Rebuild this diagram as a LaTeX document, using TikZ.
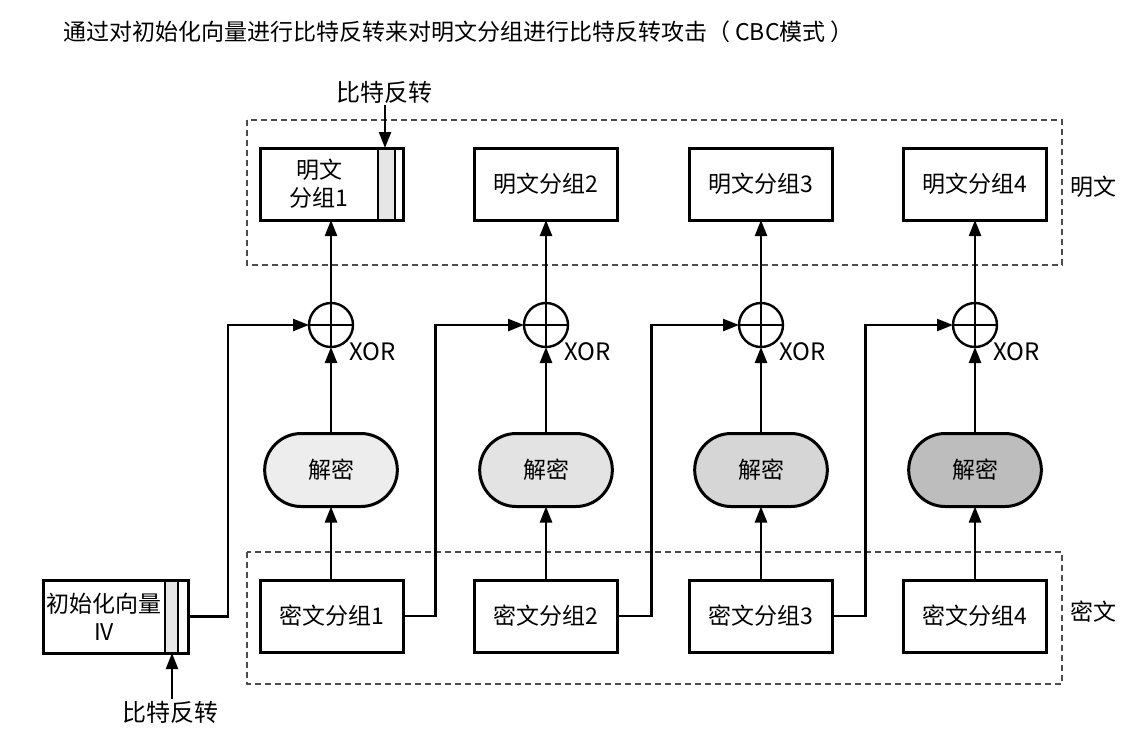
\documentclass[tikz,border=0pt]{standalone}
\usepackage{fontspec}
\setmainfont{Noto Sans CJK SC}
\usepackage{tikz}
\usetikzlibrary{arrows.meta, positioning, shapes.misc}
\definecolor{dshadeA}{HTML}{EDEDED}
\definecolor{dshadeB}{HTML}{E3E3E3}
\definecolor{dshadeC}{HTML}{D6D6D6}
\definecolor{dshadeD}{HTML}{BDBDBD}
\definecolor{flipgray}{HTML}{E6E6E6}

\begin{document}
\begin{tikzpicture}[x=0.5pt, y=-0.5pt,
  blockbox/.style={draw, line width=1.5pt, minimum width=71.5pt, minimum height=36pt,
    inner sep=0pt, outer sep=0pt, align=center, font=\fontsize{11.5}{14}\selectfont},
  decbox/.style={draw, rounded rectangle, line width=1.5pt, minimum width=73pt,
    minimum height=36.5pt, outer sep=0pt, font=\fontsize{11.5}{14}\selectfont},
  xorgate/.style={draw, circle, line width=1.2pt, minimum size=22pt, inner sep=0pt, outer sep=0pt},
  lbl/.style={font=\fontsize{11.5}{14}\selectfont, inner sep=1pt},
  arr/.style={line width=1.2pt, -{Triangle[length=8pt, width=6pt]}},
  wire/.style={line width=1.2pt},
  region/.style={draw=black!70, line width=0.6pt, dash pattern=on 3pt off 2pt}]
\useasboundingbox (0,0) rectangle (1138,745);
\node[font=\fontsize{11.5}{13}\selectfont, anchor=west] (title) at (56,32)
  {通过对初始化向量进行比特反转来对明文分组进行比特反转攻击（ CBC模式 ）};
% plaintext and ciphertext regions
\draw[region] (247,120) rectangle (1062,265);
\draw[region] (247,552) rectangle (1062,684);
\node[lbl] (ptlbl) at (1093,187) {明文};
\node[lbl] (ctlbl) at (1093,612) {密文};
% plaintext blocks
\node[blockbox] (p1) at (331.5,184) {};
\fill[flipgray] ([xshift=-12.5pt]p1.south east) rectangle ([xshift=-4pt]p1.north east);
\draw[line width=1.2pt] ([xshift=-12.5pt]p1.south east) -- ([xshift=-12.5pt]p1.north east)
  ([xshift=-4pt]p1.south east) -- ([xshift=-4pt]p1.north east);
\draw[line width=1.5pt] (p1.south west) rectangle (p1.north east);
\node[lbl, align=center] (p1t) at (319,184) {明文\\分组1};
\node[blockbox] (p2) at (546,184) {明文分组2};
\node[blockbox] (p3) at (761,184) {明文分组3};
\node[blockbox] (p4) at (975,184) {明文分组4};
\node[lbl, font=\fontsize{12}{14}\selectfont] (flipA) at (384,92) {比特反转};
\draw[arr] (flipA.south -| p1.north east) ++(-9pt,0) coordinate (fa) -- (fa |- p1.north);
% xor gates
\foreach \i/\x in {1/331, 2/546, 3/761, 4/975} {
  \node[xorgate] (x\i) at (\x,325) {};
  \draw[wire] (x\i.north) -- (x\i.south) (x\i.west) -- (x\i.east);
  \node[lbl, font=\fontsize{12}{14}\selectfont, anchor=west] (xl\i) at (\x+16,352) {XOR};
}
% decryption
\node[decbox, fill=dshadeA] (d1) at (331,470) {解密};
\node[decbox, fill=dshadeB] (d2) at (546,470) {解密};
\node[decbox, fill=dshadeC] (d3) at (761,470) {解密};
\node[decbox, fill=dshadeD] (d4) at (975,470) {解密};
% ciphertext blocks
\node[blockbox] (c1) at (332,616) {密文分组1};
\node[blockbox] (c2) at (546,616) {密文分组2};
\node[blockbox] (c3) at (761,616) {密文分组3};
\node[blockbox] (c4) at (975,616) {密文分组4};
% initialisation vector
\node[blockbox, minimum width=72.5pt, minimum height=36.5pt] (iv) at (115.5,616.5) {};
\fill[flipgray] ([xshift=-11.5pt]iv.south east) rectangle ([xshift=-5pt]iv.north east);
\draw[line width=1.2pt] ([xshift=-11.5pt]iv.south east) -- ([xshift=-11.5pt]iv.north east)
  ([xshift=-5pt]iv.south east) -- ([xshift=-5pt]iv.north east);
\draw[line width=1.5pt] (iv.south west) rectangle (iv.north east);
\node[lbl, align=center] (ivt) at (104,616.5) {初始化向量\\IV};
\node[lbl, font=\fontsize{12}{14}\selectfont] (flipB) at (170,712) {比特反转};
\draw[arr] (flipB.north -| iv.south east) ++(-8pt,0) coordinate (fb) -- (fb |- iv.south);
% connectors
\foreach \i in {1,2,3,4} {
  \draw[arr] (c\i.north -| d\i.south) -- (d\i.south);
  \draw[arr] (d\i.north) -- (x\i.south);
  \draw[arr] (x\i.north) -- (x\i.north |- p\i.south);
}
\draw[arr] (iv.east) -- ++(40,0) |- (x1.west);
\draw[arr] (c1.east) -- ++(32,0) |- (x2.west);
\draw[arr] (c2.east) -- ++(34,0) |- (x3.west);
\draw[arr] (c3.east) -- ++(33,0) |- (x4.west);
\end{tikzpicture}
\end{document}
